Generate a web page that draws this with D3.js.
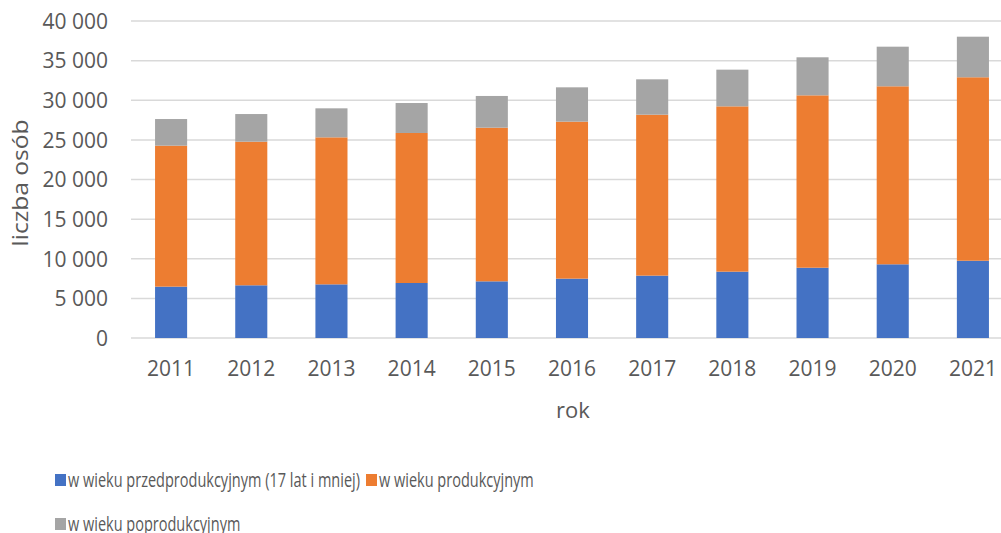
<!DOCTYPE html>
<html>
<head>
<meta charset="utf-8">
<script src="https://cdn.jsdelivr.net/npm/d3@7"></script>
<style>
  body { margin: 0; background: #fff; }
  svg text { font-family: "Open Sans", sans-serif; fill: #595959; }
  svg text.legendText { font-family: "Liberation Sans Narrow", "Open Sans", sans-serif; }
</style>
</head>
<body>
<div id="chart"></div>
<script>
// data
var years = ["2011", "2012", "2013", "2014", "2015", "2016", "2017", "2018", "2019", "2020", "2021"];
var przed = [6480, 6650, 6770, 6940, 7150, 7490, 7870, 8370, 8870, 9300, 9750];
var prod = [17790, 18120, 18550, 18930, 19390, 19810, 20310, 20860, 21750, 22460, 23150];
var poprod = [3360, 3490, 3660, 3780, 4000, 4330, 4460, 4630, 4800, 5000, 5120];
var seriesNames = ["w wieku przedprodukcyjnym (17 lat i mniej)", "w wieku produkcyjnym", "w wieku poprodukcyjnym"];
var colors = ["#4472C4", "#ED7D31", "#A5A5A5"];
var yTicks = [0, 5000, 10000, 15000, 20000, 25000, 30000, 35000, 40000];

var width = 1001, height = 533;
var margin = {left: 131, top: 21, right: -12, bottom: 195};

var svg = d3.select("#chart").append("svg")
    .attr("width", width)
    .attr("height", height);

var rows = years.map(function (y, i) {
    return {year: y, a: przed[i], b: prod[i], c: poprod[i]};
});
var stack = d3.stack().keys(["a", "b", "c"]);
var layers = stack(rows);

var x = d3.scaleBand()
    .domain(years)
    .range([margin.left, width - margin.right])
    .paddingInner(0.6)
    .paddingOuter(0.3);

var y = d3.scaleLinear()
    .domain([0, 40000])
    .range([height - margin.bottom, margin.top]);

var locale = d3.formatLocale({decimal: ",", thousands: "\u00a0", grouping: [3], currency: ["", " zł"]});
var fmt = locale.format(",");

//gridlines
svg.append("g").selectAll("line")
    .data(yTicks)
    .enter().append("line")
    .attr("x1", margin.left)
    .attr("x2", width)
    .attr("y1", function (d) { return y(d); })
    .attr("y2", function (d) { return y(d); })
    .style("stroke", "#d9d9d9")
    .style("stroke-width", 1.5);

//y axis labels
var yAxis = svg.append("g")
    .attr("transform", "translate(" + (margin.left - 23) + ",0)")
    .call(d3.axisLeft(y).tickValues(yTicks).tickSize(0).tickPadding(0).tickFormat(fmt));
yAxis.select(".domain").remove();
yAxis.selectAll("text").style("font-size", "21px").attr("dy", "0.35em");

//bars
svg.append("g").selectAll("g")
    .data(layers)
    .enter().append("g")
    .style("fill", function (d, i) { return colors[i]; })
    .selectAll("rect")
    .data(function (d) { return d; })
    .enter().append("rect")
    .attr("x", function (d) { return x(d.data.year); })
    .attr("width", x.bandwidth())
    .attr("y", function (d) { return y(d[1]); })
    .attr("height", function (d) { return y(d[0]) - y(d[1]); });

//x axis labels
var xAxis = svg.append("g")
    .attr("transform", "translate(0," + (y(0) + 22) + ")")
    .call(d3.axisBottom(x).tickSize(0).tickPadding(0));
xAxis.select(".domain").remove();
xAxis.selectAll("text").style("font-size", "21px").attr("dy", "0.35em").attr("y", 9);

//axis titles
svg.append("text")
    .attr("x", 573)
    .attr("y", 410)
    .attr("dy", "0.35em")
    .attr("text-anchor", "middle")
    .style("font-size", "22px")
    .text("rok");

svg.append("text")
    .attr("transform", "translate(20," + 183 + ") rotate(-90)")
    .attr("dy", "0.35em")
    .attr("text-anchor", "middle")
    .attr("textLength", 127)
    .attr("lengthAdjust", "spacingAndGlyphs")
    .style("font-size", "22px")
    .text("liczba osób");

//legend
var legendPos = [[55, 480], [366, 480], [55, 524]];
var legend = svg.append("g").selectAll("g")
    .data(seriesNames)
    .enter().append("g")
    .attr("transform", function (d, i) {
        return "translate(" + legendPos[i][0] + "," + legendPos[i][1] + ")";
    });
legend.append("rect")
    .attr("y", -6)
    .attr("width", 11)
    .attr("height", 12)
    .style("fill", function (d, i) { return colors[i]; });
var legendText = legend.append("text")
    .attr("class", "legendText")
    .attr("x", 13)
    .attr("dy", "0.35em")
    .style("font-size", "20px")
    .text(function (d) { return d; });

//fit the legend text to the original width
var squeeze = 292 / legendText.node().getComputedTextLength();
legendText
    .attr("textLength", function () { return this.getComputedTextLength() * squeeze; })
    .attr("lengthAdjust", "spacingAndGlyphs");
</script>
</body>
</html>
